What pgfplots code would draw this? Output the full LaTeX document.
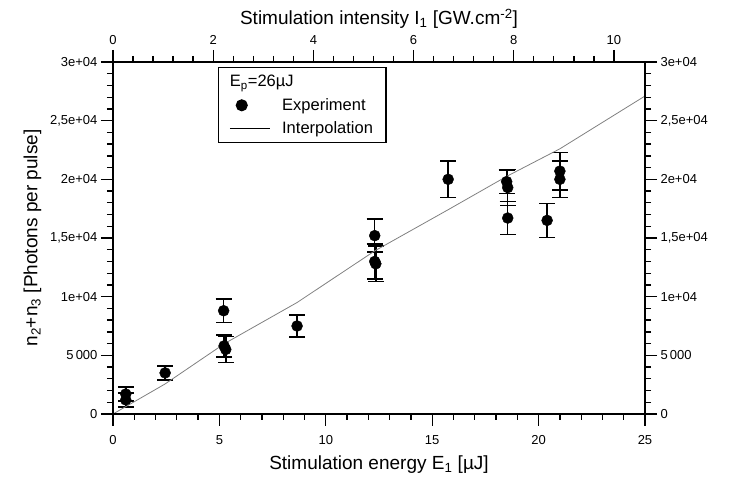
\documentclass[border=0pt]{standalone}
\usepackage{fontspec}
\setmainfont{Liberation Sans}
\usepackage{pgfplots}
\pgfplotsset{compat=1.18}
\usepackage{pgfplotstable}

\pgfplotstableread{
E N err
0.6 1700 600
0.6 1200 600
2.45 3500 600
5.22 5800 950
5.3 5500 1100
5.2 8800 1000
8.65 7500 950
12.3 15200 1400
12.3 13000 1500
12.35 12800 1500
15.75 20000 1570
18.5 19800 1000
18.55 19300 1550
18.55 16700 1400
20.4 16500 1450
21.0 20700 1600
21.0 20000 1570
}\expdata

\pgfplotstableread{
E N
0 0
2.44 2550
5.24 6000
8.65 9500
12.3 13900
15.74 17400
18.5 20250
21.0 22600
25.0 27100
}\interp

\begin{document}
\begin{tikzpicture}
\pgfplotsset{
  common/.style={
    scale only axis, width=532pt, height=352pt,
    ymin=0, ymax=30000,
    ytick={0,5000,...,30000}, minor y tick num=4,
    yticklabels={0,{5\,000},{1e+04},{1,5e+04},{2e+04},{2,5e+04},{3e+04}},
    scaled y ticks=false, scaled x ticks=false,
    tick align=outside,
    major tick length=12pt, minor tick length=6pt,
    every tick/.style={black, line width=1.3pt},
    axis line style={black, line width=1.3pt},
    ticklabel style={font=\fontsize{13}{13}\selectfont},
    label style={font=\fontsize{19}{21}\selectfont},
  }
}
\begin{axis}[common,
  clip=false,
  xmin=0, xmax=25,
  xtick={0,5,...,25}, minor x tick num=4,
  xticklabels={0,5,10,15,20,25},
  xtick pos=lower, ytick pos=left,
  xticklabel pos=lower, yticklabel pos=left,
  xticklabel style={yshift=-6pt},
  xlabel={Stimulation energy E\textsubscript{1} [µJ]},
  xlabel style={yshift=-4pt},
  ylabel={n\textsubscript{2}+n\textsubscript{3} [Photons per pulse]},
  ylabel style={yshift=2pt},
  legend style={at={(rel axis cs:0.197,0.986)}, anchor=north west,
    draw=black, line width=1.1pt, font=\fontsize{16.5}{18}\selectfont,
    inner xsep=11pt, inner ysep=5pt, row sep=6pt,
    nodes={line width=0.4pt},
    /tikz/every odd column/.append style={column sep=10pt}},
  legend cell align=left,
]
\addplot[black, only marks, mark=*, mark size=5.5pt, forget plot,
  error bars/.cd, y dir=both, y explicit,
  error bar style={line width=1.5pt, black},
  error mark options={rotate=90, mark size=8pt, line width=1.5pt, black}]
  table[x=E, y=N, y error=err] {\expdata};
\addplot[gray, line width=0.8pt, forget plot] table[x=E, y=N] {\interp};

\addlegendimage{legend image code/.code={\node[overlay, anchor=west, inner sep=0pt] at (0pt,0pt) {E\textsubscript{p}=26µJ};}}
\addlegendentry{\strut}
\addlegendimage{legend image code/.code={\fill[black] (12pt,0pt) circle (5.5pt);}}
\addlegendentry{Experiment}
\addlegendimage{legend image code/.code={\draw[black, line width=0.8pt] (0pt,0pt) -- (40pt,0pt);}}
\addlegendentry{Interpolation}

\path (rel axis cs:-0.2124,-0.1705) rectangle (rel axis cs:1.1861,1.1761);
\end{axis}
\begin{axis}[common,
  xmin=0, xmax=10.62,
  xtick={0,2,...,10}, minor x tick num=4,
  xticklabels={0,2,4,6,8,10},
  xtick pos=upper, ytick pos=right,
  xticklabel pos=upper, yticklabel pos=right,
  xticklabel style={yshift=2pt},
  xlabel={Stimulation intensity I\textsubscript{1} [GW.cm\textsuperscript{-2}]},
]
\end{axis}
\end{tikzpicture}
\end{document}
